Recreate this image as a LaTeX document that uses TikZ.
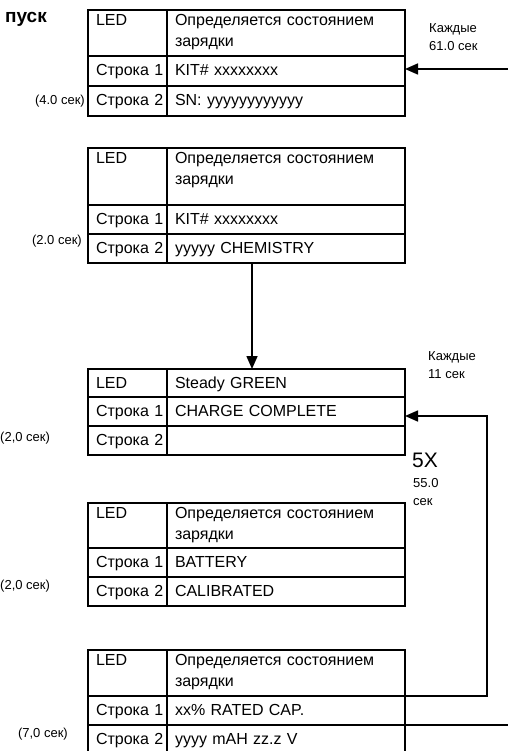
\documentclass[tikz,border=0pt]{standalone}
\usepackage{fontspec}
\setmainfont{Liberation Sans}
\usetikzlibrary{arrows.meta}

\begin{document}
\begin{tikzpicture}[x=1pt, y=-1pt,
  cell/.style={draw, line width=1.5pt, rectangle, outer sep=0pt, inner xsep=8pt, inner ysep=0pt,
    anchor=north west, align=left, font=\fontsize{16}{21}\selectfont},
  keycell/.style={cell, text width=63pt},
  valcell/.style={cell, text width=222pt},
  headrow/.style={text height=15.5pt, text depth=#1},
  headrow/.default=30.5pt,
  plainrow/.style={text height=19.5pt, text depth=#1},
  plainrow/.default=9.5pt,
  sidenote/.style={inner sep=0pt, align=left, font=\fontsize{13}{18}\selectfont},
  flowarrow/.style={line width=1.6pt, -{Triangle[length=13pt, width=11pt]}},
  flowline/.style={line width=1.6pt}]
  \useasboundingbox (0,0) rectangle (507,751);

  % start-up screen
  \node[font=\fontsize{19}{19}\selectfont\bfseries, inner sep=0pt, anchor=base east] (start) at (47,23) {пуск};
  \node[keycell, headrow] (t1k0) at (88,10) {LED};
  \node[valcell, headrow] (t1v0) at (t1k0.north east) {Определяется состоянием\\зарядки};
  \node[keycell, plainrow=10.5pt] (t1k1) at (t1k0.south west) {Строка~1};
  \node[valcell, plainrow=10.5pt] (t1v1) at (t1k1.north east) {KIT\# xxxxxxxx};
  \node[keycell, plainrow=10.5pt] (t1k2) at (t1k1.south west) {Строка~2};
  \node[valcell, plainrow=10.5pt] (t1v2) at (t1k2.north east) {SN: yyyyyyyyyyyy};
  \node[sidenote, anchor=east] (t1time) at (85,101) {(4.0 сек)};
  \node[sidenote, anchor=north west] (t1every) at (429,23.5) {Каждые\\61.0 сек};

  % chemistry screen
  \node[keycell, headrow=41.5pt] (t2k0) at (88,148) {LED};
  \node[valcell, headrow=41.5pt] (t2v0) at (t2k0.north east) {Определяется состоянием\\зарядки};
  \node[keycell, plainrow] (t2k1) at (t2k0.south west) {Строка~1};
  \node[valcell, plainrow] (t2v1) at (t2k1.north east) {KIT\# xxxxxxxx};
  \node[keycell, plainrow] (t2k2) at (t2k1.south west) {Строка~2};
  \node[valcell, plainrow] (t2v2) at (t2k2.north east) {yyyyy CHEMISTRY};
  \node[sidenote, anchor=east] (t2time) at (82,241) {(2.0 сек)};

  % charge complete
  \node[keycell, plainrow=8.5pt] (t3k0) at (88,369) {LED};
  \node[valcell, plainrow=8.5pt] (t3v0) at (t3k0.north east) {Steady GREEN};
  \node[keycell, plainrow] (t3k1) at (t3k0.south west) {Строка~1};
  \node[valcell, plainrow] (t3v1) at (t3k1.north east) {CHARGE COMPLETE};
  \node[keycell, plainrow] (t3k2) at (t3k1.south west) {Строка~2};
  \node[valcell, plainrow] (t3v2) at (t3k2.north east) {};
  \node[sidenote, anchor=west] (t3time) at (0,438) {(2,0 сек)};
  \node[sidenote, anchor=north west] (t3every) at (428,351.5) {Каждые\\11 сек};
  \node[inner sep=0pt, anchor=north west, font=\fontsize{21}{21}\selectfont] (repeat) at (412,452.5) {5X};
  \node[sidenote, anchor=north west, font=\fontsize{13}{18.5}\selectfont] (total) at (413,478) {55.0\\сек};

  % battery calibrated
  \node[keycell, headrow=29.5pt] (t4k0) at (88,503) {LED};
  \node[valcell, headrow=29.5pt] (t4v0) at (t4k0.north east) {Определяется состоянием\\зарядки};
  \node[keycell, plainrow] (t4k1) at (t4k0.south west) {Строка~1};
  \node[valcell, plainrow] (t4v1) at (t4k1.north east) {BATTERY};
  \node[keycell, plainrow] (t4k2) at (t4k1.south west) {Строка~2};
  \node[valcell, plainrow] (t4v2) at (t4k2.north east) {CALIBRATED};
  \node[sidenote, anchor=west] (t4time) at (0,586) {(2,0 сек)};

  % rated capacity
  \node[keycell, headrow] (t5k0) at (88,650) {LED};
  \node[valcell, headrow] (t5v0) at (t5k0.north east) {Определяется состоянием\\зарядки};
  \node[keycell, plainrow] (t5k1) at (t5k0.south west) {Строка~1};
  \node[valcell, plainrow] (t5v1) at (t5k1.north east) {xx\% RATED CAP.};
  \node[keycell, plainrow] (t5k2) at (t5k1.south west) {Строка~2};
  \node[valcell, plainrow] (t5v2) at (t5k2.north east) {yyyy mAH zz.z V};
  \node[sidenote, anchor=east] (t5time) at (68,734) {(7,0 сек)};

  % connectors
  \coordinate (in1) at (512,69);
  \coordinate (drop) at (252,0);
  \coordinate (loop) at (487,416);
  \coordinate (out5) at (512,0);
  \draw[flowarrow] (in1) -- (in1 -| t1v1.east);
  \draw[flowarrow] (drop |- t2v2.south) -- (drop |- t3v0.north);
  \draw[flowarrow] (t5v0.south east) -| (loop) -- (loop -| t3v1.east);
  \draw[flowline] (t5v1.south east) -- (t5v1.south east -| out5);
\end{tikzpicture}
\end{document}
